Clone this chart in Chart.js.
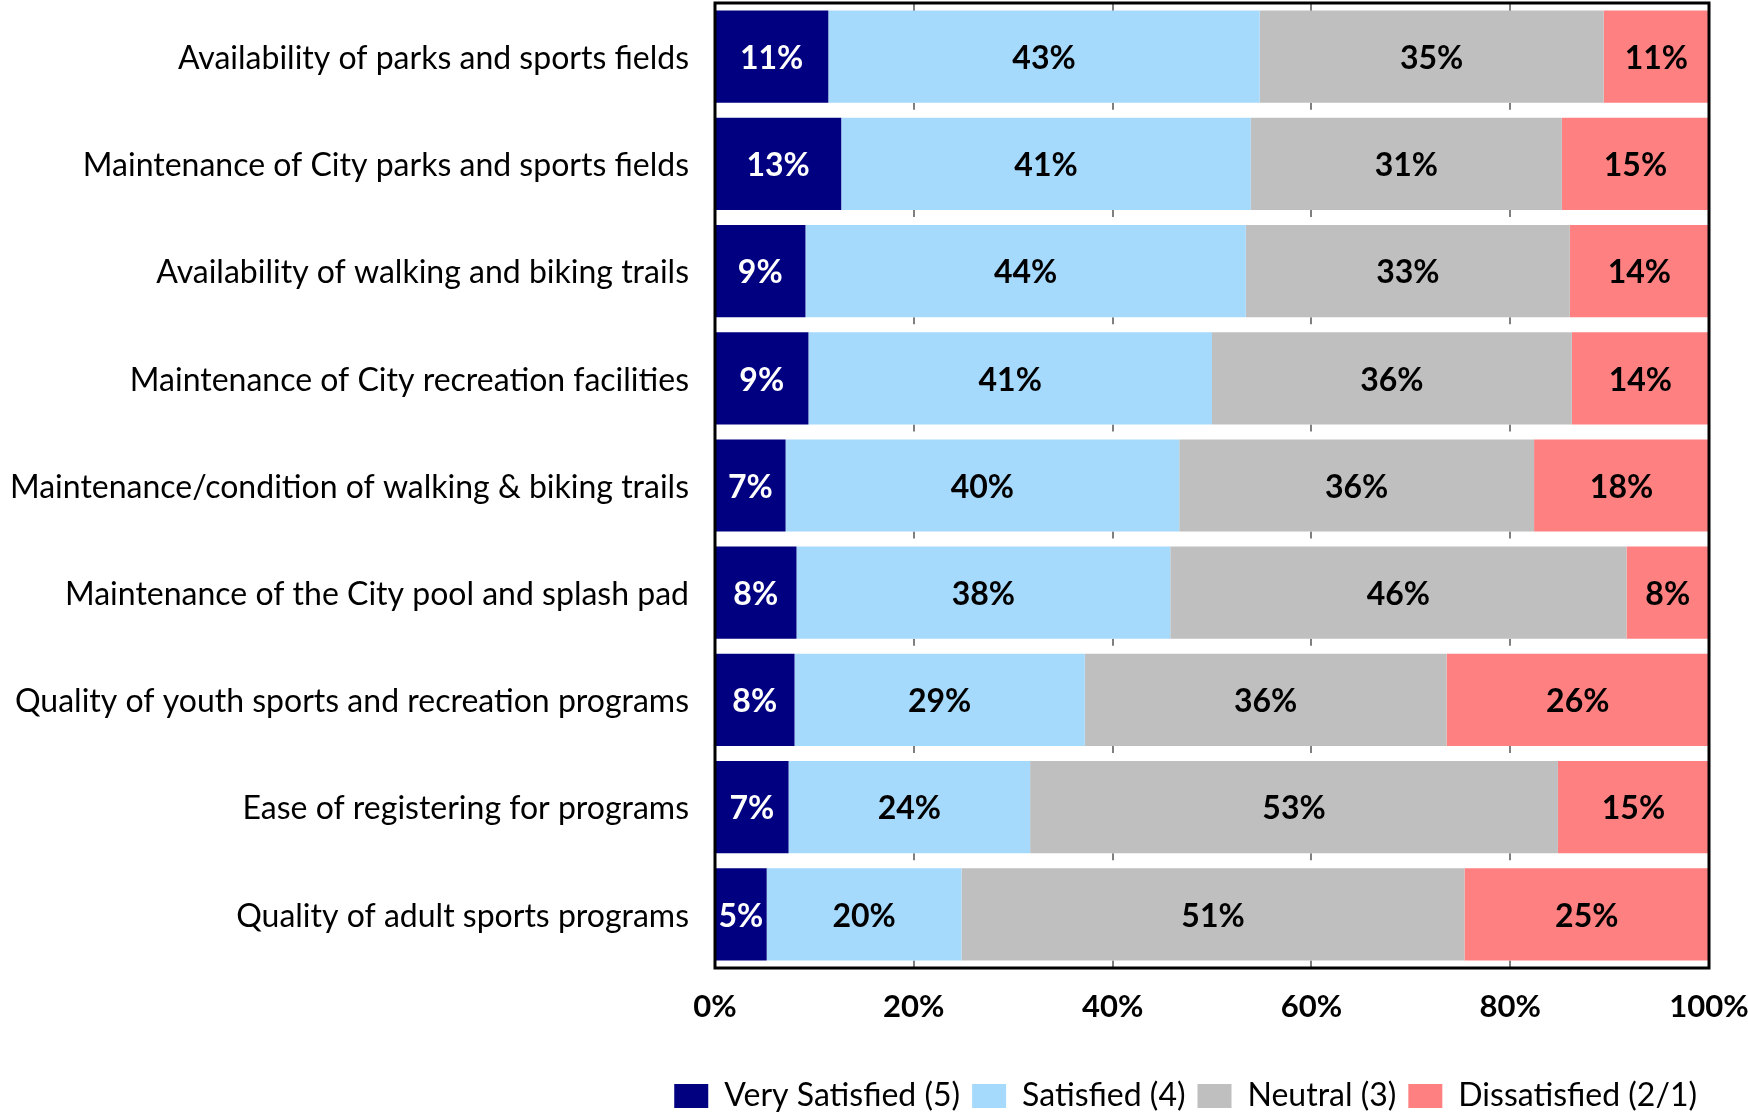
<!DOCTYPE html>
<html>
<head>
<meta charset="utf-8">
<script src="https://cdn.jsdelivr.net/npm/chart.js@4/dist/chart.umd.min.js"></script>
<style>
  html, body { margin: 0; padding: 0; background: #ffffff; }
  #wrap { width: 1748px; height: 1115px; position: relative; }
</style>
</head>
<body>
<div id="wrap"><canvas id="c"></canvas></div>
<script>
const categories = [
  "Availability of parks and sports fields",
  "Maintenance of City parks and sports fields",
  "Availability of walking and biking trails",
  "Maintenance of City recreation facilities",
  "Maintenance/condition of walking & biking trails",
  "Maintenance of the City pool and splash pad",
  "Quality of youth sports and recreation programs",
  "Ease of registering for programs",
  "Quality of adult sports programs"
];
const seriesNames = ["Very Satisfied (5)", "Satisfied (4)", "Neutral (3)", "Dissatisfied (2/1)"];
const verySatisfied = [11.4, 12.7, 9.1, 9.4, 7.1, 8.2, 8.0, 7.4, 5.2];
const satisfied     = [43.4, 41.2, 44.3, 40.6, 39.6, 37.6, 29.2, 24.3, 19.6];
const neutral       = [34.6, 31.3, 32.6, 36.2, 35.7, 45.9, 36.4, 53.1, 50.6];
const dissatisfied  = [10.6, 14.8, 14.0, 13.8, 17.6, 8.3, 26.4, 15.2, 24.6];
const xTicks = [0, 20, 40, 60, 80, 100];

const FONT = "Lato, 'Open Sans', sans-serif";
const colors = ["#000080", "#A6DAFC", "#BFBFBF", "#FF8080"];
const labelColors = ["#ffffff", "#000000", "#000000", "#000000"];

const barLabels = {
  id: 'barLabels',
  afterDatasetsDraw(chart) {
    const ctx = chart.ctx;
    ctx.save();
    ctx.font = "bold 32px " + FONT;
    ctx.textAlign = 'center';
    ctx.textBaseline = 'middle';
    chart.data.datasets.forEach((ds, di) => {
      const meta = chart.getDatasetMeta(di);
      meta.data.forEach((el, i) => {
        const v = ds.data[i];
        const cx = (el.x + el.base) / 2;
        ctx.fillStyle = labelColors[di];
        ctx.fillText(Math.round(v) + "%", cx, el.y + 2);
      });
    });
    ctx.restore();
  }
};

// short gray grid marks visible in the gaps between bars
const gapTicks = {
  id: 'gapTicks',
  beforeDatasetsDraw(chart) {
    const ctx = chart.ctx;
    const xs = chart.scales.x;
    const a = chart.chartArea;
    const meta = chart.getDatasetMeta(0);
    ctx.save();
    ctx.strokeStyle = '#7f7f7f';
    ctx.lineWidth = 2;
    xTicks.slice(1, -1).forEach(v => {
      const px = Math.round(xs.getPixelForValue(v));
      ctx.beginPath();
      ctx.moveTo(px, a.top);
      ctx.lineTo(px, a.top + 9);
      meta.data.forEach(el => {
        const b = el.y + el.height / 2;
        ctx.moveTo(px, b);
        ctx.lineTo(px, Math.min(b + 7, a.bottom));
      });
      ctx.stroke();
    });
    ctx.restore();
  }
};

const frame = {
  id: 'frame',
  afterDatasetsDraw(chart) {
    const a = chart.chartArea;
    const ctx = chart.ctx;
    ctx.save();
    ctx.strokeStyle = '#000000';
    ctx.lineWidth = 3;
    ctx.strokeRect(a.left, a.top, a.right - a.left, a.bottom - a.top);
    ctx.restore();
  }
};

function zeroPad(scale) {
  scale.paddingLeft = 0; scale.paddingRight = 0;
  scale.paddingTop = 0; scale.paddingBottom = 0;
}

const datasets = [verySatisfied, satisfied, neutral, dissatisfied].map((d, i) => ({
  label: seriesNames[i],
  data: d,
  backgroundColor: colors[i],
  borderWidth: 0,
  categoryPercentage: 1.0,
  barPercentage: 0.86
}));

new Chart(document.getElementById('c'), {
  type: 'bar',
  data: { labels: categories, datasets },
  plugins: [gapTicks, barLabels, frame],
  options: {
    indexAxis: 'y',
    responsive: true,
    maintainAspectRatio: false,
    animation: false,
    layout: { padding: { top: 3, right: 39, bottom: -7, left: 0 } },
    scales: {
      x: {
        stacked: true,
        min: 0, max: 100,
        afterBuildTicks(scale) { scale.ticks = xTicks.map(v => ({ value: v })); },
        afterFit(scale) { scale.height = 100; zeroPad(scale); },
        grid: { display: false, drawTicks: false },
        border: { display: false },
        ticks: {
          padding: 20,
          color: '#000000',
          font: { family: FONT, size: 31, weight: 'bold' },
          callback: (v) => v + '%',
          maxRotation: 0
        }
      },
      y: {
        stacked: true,
        afterFit(scale) { scale.width = 715; zeroPad(scale); },
        grid: { display: false, drawTicks: false },
        border: { display: false },
        ticks: {
          padding: 26,
          labelOffset: 2,
          color: '#000000',
          font: { family: FONT, size: 32 }
        }
      }
    },
    plugins: {
      legend: {
        position: 'bottom',
        align: 'end',
        labels: {
          boxWidth: 34,
          boxHeight: 24,
          padding: 12,
          color: '#000000',
          font: { family: FONT, size: 32 }
        }
      },
      tooltip: { enabled: false }
    }
  }
});
</script>
</body>
</html>
